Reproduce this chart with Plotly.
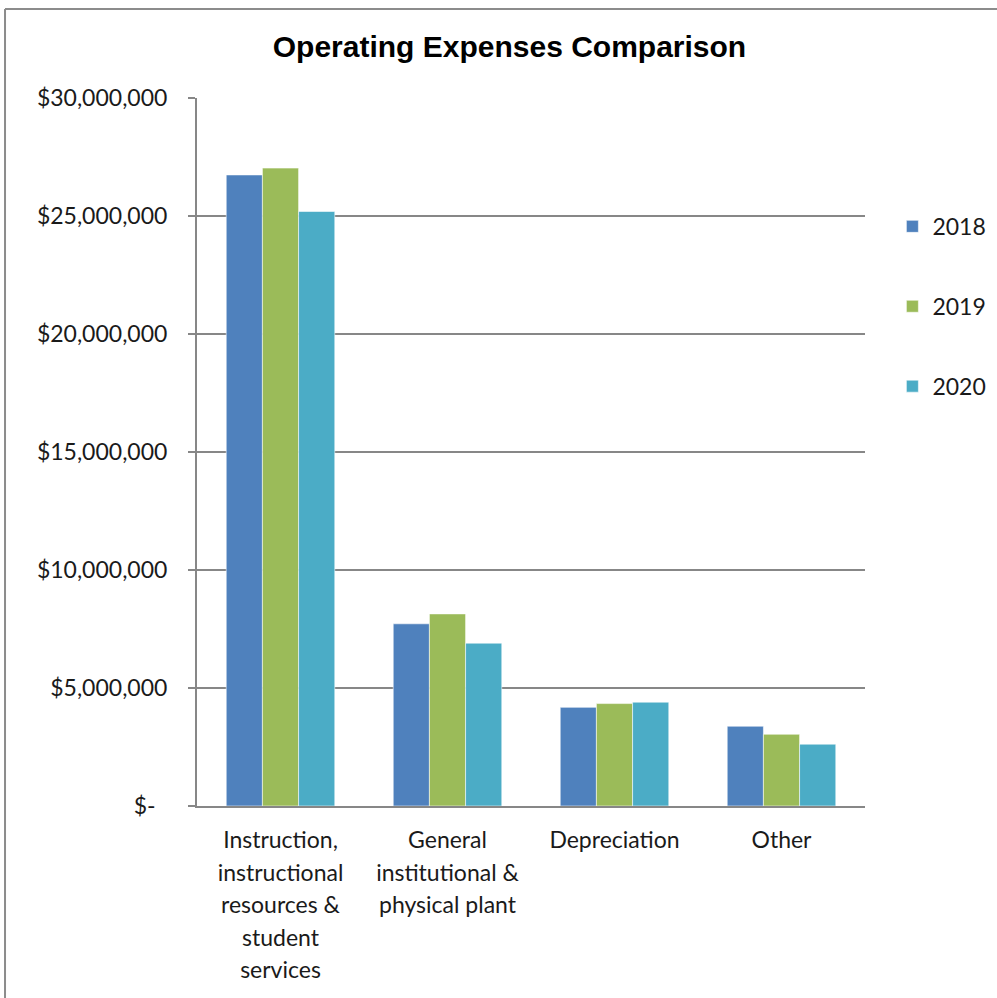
import plotly.graph_objects as go

categories = [
    "Instruction,<br>instructional<br>resources &<br>student<br>services",
    "General<br>institutional &<br>physical plant",
    "Depreciation",
    "Other",
]
years = ["2018", "2019", "2020"]
values_2018 = [26_740_000, 7_720_000, 4_180_000, 3_380_000]
values_2019 = [27_030_000, 8_140_000, 4_340_000, 3_040_000]
values_2020 = [25_190_000, 6_900_000, 4_400_000, 2_620_000]
colors = ["#4F81BD", "#9BBB59", "#4BACC6"]
y_tickvals = [0, 5_000_000, 10_000_000, 15_000_000, 20_000_000, 25_000_000, 30_000_000]
y_ticktext = ["$-\u00a0\u00a0", "$5,000,000", "$10,000,000", "$15,000,000",
              "$20,000,000", "$25,000,000", "$30,000,000"]

FONT = "Lato"
GRID = "#878787"

cat_labels = ['<span style="font-size:23px">' + c + "</span>" for c in categories]

fig = go.Figure()
for name, vals, col in zip(years, [values_2018, values_2019, values_2020], colors):
    fig.add_trace(go.Bar(
        x=cat_labels, y=vals, name=name, legendgroup=name,
        marker=dict(color=col, line=dict(color="rgba(255,255,255,0.55)", width=1)),
    ))

fig.update_layout(
    width=997, height=998,
    margin=dict(l=197, r=132, t=98, b=192, autoexpand=False),
    paper_bgcolor="white", plot_bgcolor="white",
    barmode="group", bargap=0.35, bargroupgap=0,
    font=dict(family=FONT, size=23, color="#1a1a1a"),
    title=dict(text="<b>Operating Expenses Comparison</b>", x=0.511, xanchor="center",
               y=0.953, yanchor="middle",
               font=dict(family="Liberation Sans", size=30, color="black")),
    legend=dict(x=1.041, xanchor="left", y=0.849, yanchor="top",
                font=dict(family=FONT, size=23), tracegroupgap=47,
                itemwidth=30, bgcolor="rgba(0,0,0,0)"),
    xaxis=dict(showline=True, linecolor=GRID, linewidth=2, ticks="",
               tickfont=dict(family=FONT, size=25), ticklabelstandoff=10,
               showgrid=False),
    yaxis=dict(range=[0, 30_000_000], tickvals=y_tickvals, ticktext=y_ticktext,
               showgrid=True, gridcolor=GRID, gridwidth=2,
               showline=True, linecolor=GRID, linewidth=2,
               ticks="outside", ticklen=7, tickcolor=GRID, tickwidth=2,
               zeroline=False, tickfont=dict(family=FONT, size=23),
               ticklabelstandoff=16),
    shapes=[
        dict(type="line", xref="paper", yref="paper", x0=-0.2874, x1=1.3, y0=1.1257, y1=1.1257,
             line=dict(color="#8c8c8c", width=2)),
        dict(type="line", xref="paper", yref="paper", x0=-0.2874, x1=-0.2874, y0=1.1257, y1=-0.3,
             line=dict(color="#8c8c8c", width=2)),
    ],
)

fig.write_html("out.html", config={"displayModeBar": False},
               post_script="document.body.style.margin='0';document.body.style.overflow='hidden';")
